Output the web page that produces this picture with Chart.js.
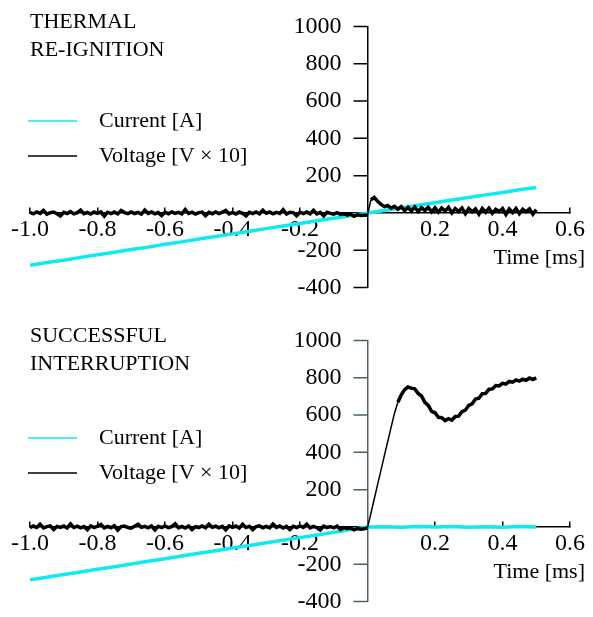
<!DOCTYPE html>
<html>
<head>
<meta charset="utf-8">
<script src="https://cdn.jsdelivr.net/npm/chart.js@4.4.1/dist/chart.umd.min.js"></script>
<style>
  html, body { margin: 0; padding: 0; background: #fff; overflow: hidden; }
  .panel { position: absolute; left: 0; width: 593px; height: 314px; }
  #topPanel { top: 0; }
  #bottomPanel { top: 314px; }
</style>
</head>
<body>
<div class="panel" id="topPanel"><canvas id="topChart" width="593" height="314"></canvas></div>
<div class="panel" id="bottomPanel"><canvas id="bottomChart" width="593" height="314"></canvas></div>
<script>
// time axis [ms]
const timeFine = [
  -1.00,-0.99,-0.98,-0.97,-0.96,-0.95,-0.94,-0.93,-0.92,-0.91,
  -0.90,-0.89,-0.88,-0.87,-0.86,-0.85,-0.84,-0.83,-0.82,-0.81,
  -0.80,-0.79,-0.78,-0.77,-0.76,-0.75,-0.74,-0.73,-0.72,-0.71,
  -0.70,-0.69,-0.68,-0.67,-0.66,-0.65,-0.64,-0.63,-0.62,-0.61,
  -0.60,-0.59,-0.58,-0.57,-0.56,-0.55,-0.54,-0.53,-0.52,-0.51,
  -0.50,-0.49,-0.48,-0.47,-0.46,-0.45,-0.44,-0.43,-0.42,-0.41,
  -0.40,-0.39,-0.38,-0.37,-0.36,-0.35,-0.34,-0.33,-0.32,-0.31,
  -0.30,-0.29,-0.28,-0.27,-0.26,-0.25,-0.24,-0.23,-0.22,-0.21,
  -0.20,-0.19,-0.18,-0.17,-0.16,-0.15,-0.14,-0.13,-0.12,-0.11,
  -0.10,-0.09,-0.08,-0.07,-0.06,-0.05,-0.04,-0.03,-0.02,-0.01,
  0.00,0.01,0.02,0.03,0.04,0.05,0.06,0.07,0.08,0.09,
  0.10,0.11,0.12,0.13,0.14,0.15,0.16,0.17,0.18,0.19,
  0.20,0.21,0.22,0.23,0.24,0.25,0.26,0.27,0.28,0.29,
  0.30,0.31,0.32,0.33,0.34,0.35,0.36,0.37,0.38,0.39,
  0.40,0.41,0.42,0.43,0.44,0.45,0.46,0.47,0.48,0.49,
  0.50
];
const timeCoarse = [
  -1.00,-0.95,-0.90,-0.85,-0.80,-0.75,-0.70,-0.65,-0.60,-0.55,
  -0.50,-0.45,-0.40,-0.35,-0.30,-0.25,-0.20,-0.15,-0.10,-0.05,
  0.00,0.05,0.10,0.15,0.20,0.25,0.30,0.35,0.40,0.45,0.50
];

// THERMAL RE-IGNITION
const reigCurrent = [
  -281,-266,-253,-238,-224,-211,-196,-183,-168,-155,
  -140,-126,-112,-98,-84,-70,-57,-42,-28,-15,
  0,13,27,41,55,69,83,97,110,124,137
];
const reigVoltage = [
  3,-5,6,-2,14,-6,2,5,-4,-16,
  4,-3,7,-5,2,15,-4,3,-6,5,
  -2,6,-17,4,-3,5,-5,13,2,-4,
  6,-3,3,-6,16,-2,5,-5,2,-14,
  5,-4,6,-2,3,-5,18,-3,4,-6,
  2,5,-15,3,-4,6,-3,4,14,-5,
  3,-6,5,-2,-16,4,-3,6,-4,15,
  -2,5,-5,3,-3,17,-6,4,2,-15,
  5,-3,6,-4,14,-5,3,-16,4,-2,
  -6,2,-8,-4,-12,-6,-18,-10,-14,-12,
  -12,70,84,62,46,34,40,26,36,20,
  34,12,30,10,32,8,28,14,30,6,
  28,4,26,10,30,0,24,8,26,-4,
  24,6,22,-6,24,4,26,-2,20,8,
  24,-8,22,2,24,-4,20,6,22,-6,
  18
];

// SUCCESSFUL INTERRUPTION
const succCurrent = [
  -283,-270,-255,-241,-227,-213,-198,-184,-170,-156,
  -141,-127,-113,-99,-85,-71,-57,-43,-29,-14,
  0,1,-2,2,0,3,-1,1,-2,2,0
];
const succVoltage = [
  -4,5,-3,15,-5,2,6,-14,3,-2,
  5,-6,16,-3,4,-5,2,-15,6,-3,
  4,14,-5,3,-4,6,-17,2,5,-3,
  -6,4,15,-2,3,-5,5,-16,4,-3,
  6,-4,2,17,-5,3,-6,5,-14,2,
  -3,6,-4,15,-2,4,-5,3,-16,6,
  -2,5,-6,14,-3,4,-15,2,6,-4,
  3,-5,16,-2,5,-6,3,-14,4,-3,
  6,-2,15,-5,3,-4,-16,5,-3,2,
  -5,4,-14,-3,-8,-6,-15,-8,-12,-10,
  -5,72,150,228,305,382,458,535,610,668,
  708,736,750,744,740,716,702,668,652,620,
  612,588,586,570,580,572,592,594,618,626,
  652,660,686,690,714,716,738,740,758,756,
  770,766,780,776,788,782,792,786,798,790,
  800
];

const xTicks = { min: -1.0, max: 0.6, step: 0.2 };
const yTicks = { min: -400, max: 1000, step: 200 };
const yTickValues = [-400, -200, 200, 400, 600, 800, 1000];

const CYAN = "rgb(16, 232, 242)";
const FONT = "Liberation Serif";
const Y_TICK_LEN = 14;
const Y_LABEL_PAD = 12;

const toPoints = (xs, ys) => xs.map((x, i) => ({ x: x, y: ys[i] }));

// y axis crosses at x = 0: push its labels left of the tick marks
const yLabelShift = {
  id: "yLabelShift",
  afterUpdate(chart) {
    const s = chart.scales.y;
    if (s._shiftPatched) return;
    s._shiftPatched = true;
    const compute = s._computeLabelItems;
    s._computeLabelItems = function (area) {
      const items = compute.call(this, area);
      items.forEach(it => { it.options.translation[0] -= Y_TICK_LEN + Y_LABEL_PAD; });
      return items;
    };
  }
};

// titles, legend, y tick marks and axis name drawn onto the canvas
const panelText = {
  id: "panelText",
  afterDraw(chart, args, opts) {
    const ctx = chart.ctx;
    const xs = chart.scales.x;
    const ys = chart.scales.y;
    const x0 = xs.getPixelForValue(0);
    ctx.save();
    ctx.strokeStyle = opts.axisColor;
    ctx.lineWidth = 1.5;
    ctx.beginPath();
    yTickValues.forEach(v => {
      const y = ys.getPixelForValue(v);
      ctx.moveTo(x0, y);
      ctx.lineTo(x0 - Y_TICK_LEN, y);
    });
    ctx.stroke();

    ctx.font = "22px '" + FONT + "'";
    ctx.fillStyle = "#000";
    ctx.textBaseline = "middle";
    ctx.textAlign = "left";
    opts.title.forEach((line, i) => ctx.fillText(line, 30, 22 + i * 28));
    chart.data.datasets.forEach((ds, i) => {
      const y = opts.legendTop + i * 35;
      ctx.strokeStyle = ds.borderColor;
      ctx.lineWidth = 1.3;
      ctx.beginPath();
      ctx.moveTo(28, y);
      ctx.lineTo(77, y);
      ctx.stroke();
      ctx.fillText(ds.label, 99, y);
    });
    ctx.textAlign = "right";
    ctx.fillText("Time [ms]", xs.right + 15, ys.getPixelForValue(0) + 45);
    ctx.restore();
  }
};

function makePanel(canvasId, title, legendTop, current, voltage, yAxisColor) {
  return new Chart(document.getElementById(canvasId), {
    type: "line",
    data: {
      datasets: [{
        label: "Current [A]",
        data: toPoints(timeCoarse, current),
        borderColor: CYAN,
        borderWidth: 3.5,
        pointRadius: 0,
        tension: 0,
        order: 1
      }, {
        label: "Voltage [V \u00d7 10]",
        data: toPoints(timeFine, voltage),
        borderColor: "#000",
        borderWidth: 3.5,
        pointRadius: 0,
        tension: 0,
        order: 0,
        segment: {
          // steep transient is a thin trace, noisy plateaus look thick
          borderWidth: ctx => Math.abs(ctx.p1.parsed.y - ctx.p0.parsed.y) > 40 ? 1.5 : 3.5
        }
      }]
    },
    options: {
      responsive: false,
      animation: false,
      devicePixelRatio: 1,
      layout: { padding: { left: 30, top: 20, right: 20, bottom: 22 } },
      plugins: {
        legend: { display: false },
        tooltip: { enabled: false },
        panelText: { title: title, legendTop: legendTop, axisColor: yAxisColor }
      },
      scales: {
        x: {
          type: "linear",
          position: { y: 0 },
          min: xTicks.min,
          max: xTicks.max,
          ticks: {
            stepSize: xTicks.step,
            padding: 8,
            color: "#000",
            font: { family: FONT, size: 24 },
            maxRotation: 0,
            autoSkip: false,
            callback: v => Math.abs(v) < 1e-9 ? "" : v.toFixed(1)
          },
          grid: { drawOnChartArea: false, tickLength: -6, color: "#000", lineWidth: 1.5 },
          border: { color: "#000", width: 1.5 }
        },
        y: {
          type: "linear",
          position: { x: 0 },
          min: yTicks.min,
          max: yTicks.max,
          ticks: {
            stepSize: yTicks.step,
            padding: Y_LABEL_PAD,
            color: "#000",
            font: { family: FONT, size: 24 },
            autoSkip: false,
            callback: v => v === 0 ? "" : String(v)
          },
          grid: { drawOnChartArea: false, drawTicks: false },
          border: { color: yAxisColor, width: 1.5 }
        }
      }
    },
    plugins: [yLabelShift, panelText]
  });
}

makePanel("topChart", ["THERMAL", "RE-IGNITION"], 121, reigCurrent, reigVoltage, "#000");
makePanel("bottomChart", ["SUCCESSFUL", "INTERRUPTION"], 124, succCurrent, succVoltage, "#4c6262");
</script>
</body>
</html>
